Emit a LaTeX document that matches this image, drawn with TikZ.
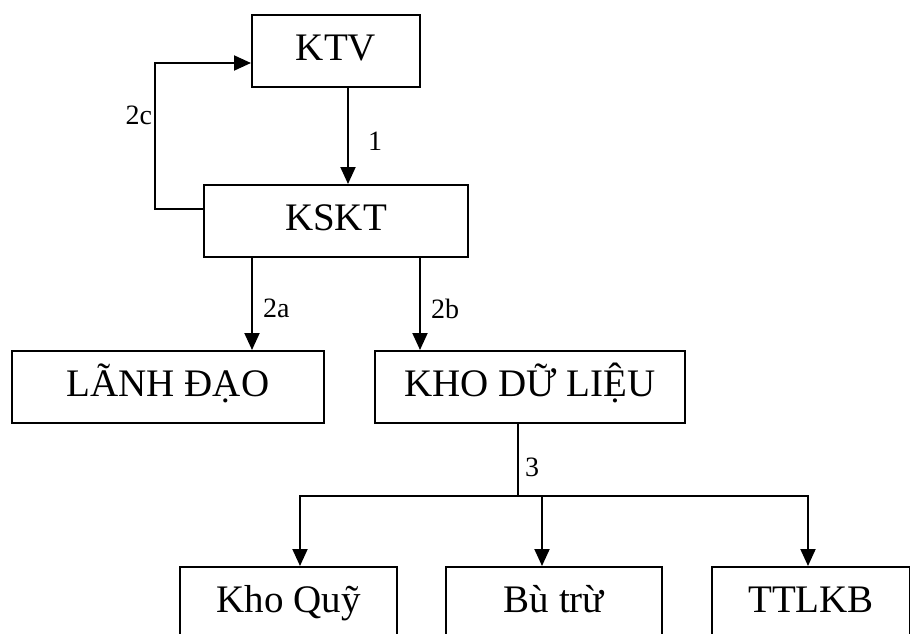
\documentclass[tikz,border=0pt]{standalone}
\usepackage{fontspec}
\setmainfont{Liberation Serif}
\usetikzlibrary{arrows.meta,positioning}

\begin{document}
\begin{tikzpicture}[x=1pt,y=-1pt,line width=2pt,font=\fontsize{39}{41}\selectfont,box/.style={draw,line width=2pt,minimum height=72pt,inner sep=0pt,text height=27pt,text depth=9pt},lbl/.style={font=\fontsize{28}{30}\selectfont,inner sep=2pt},>={Triangle[length=17pt,width=15pt]}]
\useasboundingbox (0,0) rectangle (910,634);
\node[box,minimum width=168pt] (ktv) at (336,51) {KTV};
\node[box,minimum width=264pt,below=96pt of ktv] (kskt) {KSKT};
\node[box,minimum width=312pt] (lanh) at (168,387) {LÃNH ĐẠO};
\node[box,minimum width=310pt,right=49pt of lanh] (kho) {KHO DỮ LIỆU};
\node[box,minimum width=217pt] (quy) at (288.5,603) {Kho Quỹ};
\node[box,minimum width=216pt,right=47pt of quy] (butru) {Bù trừ};
\node[box,minimum width=198pt,right=48pt of butru] (ttlkb) {TTLKB};
% luong xu ly
\draw[->] ([xshift=12pt]ktv.south)--node[lbl,right=17pt,pos=0.55]{1}([xshift=12pt]kskt.north);
\draw[->] ([yshift=12pt]kskt.west)--++(-48,0)|-node[lbl,left,pos=0.32]{2c}([yshift=-12pt]ktv.west);
\draw[->] ([xshift=-84pt]kskt.south)--node[lbl,right=8pt,pos=0.55]{2a}([xshift=-84pt]kskt.south |- lanh.north);
\draw[->] ([xshift=84pt]kskt.south)--node[lbl,right=8pt,pos=0.55]{2b}([xshift=84pt]kskt.south |- kho.north);
\draw ([xshift=-12pt]kho.south)--node[lbl,right=4pt,pos=0.6]{3}++(0,72) coordinate (split);
\draw[->] (split)-|([xshift=11.5pt]quy.north);\draw[->] (split)-|([xshift=-12pt]butru.north);\draw[->] (split)-|([xshift=-3pt]ttlkb.north);
\end{tikzpicture}
\end{document}
